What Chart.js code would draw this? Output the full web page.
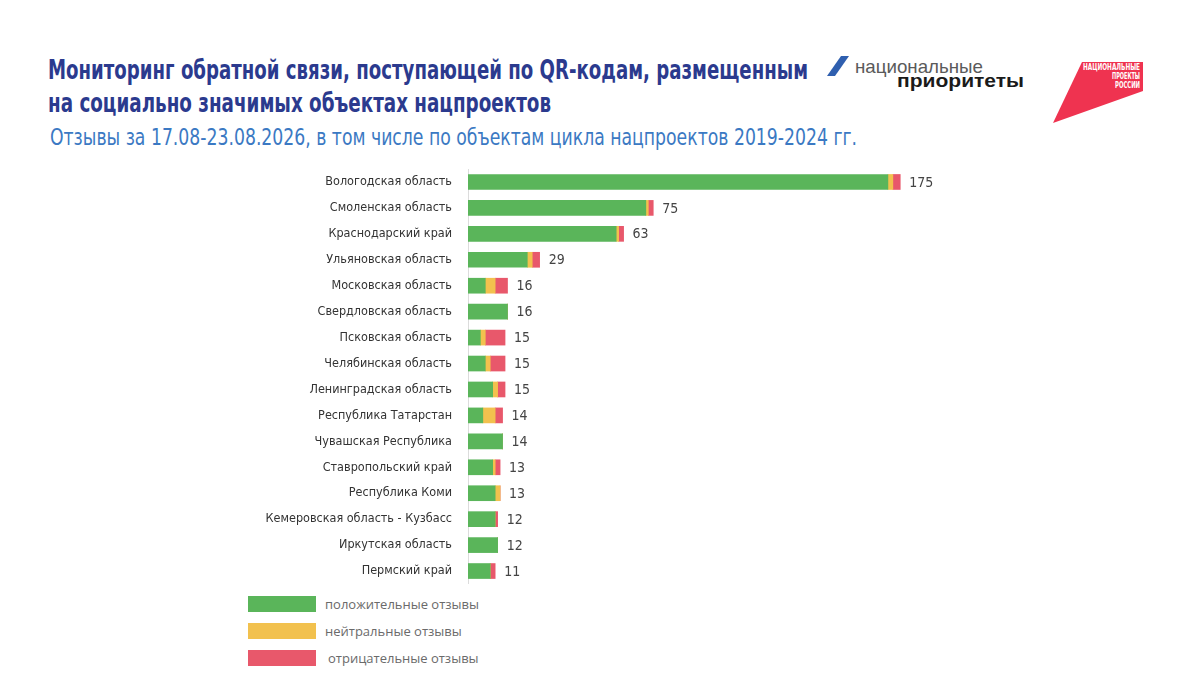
<!DOCTYPE html>
<html lang="ru">
<head>
<meta charset="utf-8">
<title>Мониторинг обратной связи</title>
<script src="https://cdn.jsdelivr.net/npm/chart.js@4"></script>
<style>
    html, body { margin: 0; padding: 0; background: #fff; }
    #page { position: relative; width: 1200px; height: 675px; overflow: hidden; }
    #header { position: absolute; left: 0; top: 0; }
    #chartBox { position: absolute; left: 0; top: 169px; width: 1000px; height: 415px; }
    #legend { position: absolute; left: 248px; top: 596px; font-family: "Open Sans", sans-serif; font-size: 13px; color: #6a6a6a; }
    .legend-item { position: relative; height: 27px; }
    .legend-box { position: absolute; left: 0; top: 0; width: 68px; height: 16px; }
    .legend-text { position: absolute; left: 77px; top: -1px; white-space: nowrap; }
</style>
</head>
<body>
<div id="page">
    <svg id="header" width="1200" height="170" xmlns="http://www.w3.org/2000/svg">
        <g font-family="'Liberation Sans Narrow', 'DejaVu Sans Condensed', sans-serif">
            <text x="48" y="79" font-size="27" font-weight="bold" fill="#2b3a8e" textLength="760" lengthAdjust="spacingAndGlyphs">Мониторинг обратной связи, поступающей по QR-кодам, размещенным</text>
            <text x="48" y="112" font-size="27" font-weight="bold" fill="#2b3a8e" textLength="503" lengthAdjust="spacingAndGlyphs">на социально значимых объектах нацпроектов</text>
            <text x="50" y="145" font-size="23" fill="#3b79c3" textLength="807" lengthAdjust="spacingAndGlyphs">Отзывы за 17.08-23.08.2026, в  том числе по объектам цикла нацпроектов 2019-2024 гг.</text>
        </g>
        <!-- логотип "национальные приоритеты" -->
        <polygon points="827,76 835,76 849,56 841,56" fill="#2f5faf"/>
        <text x="855" y="73" font-family="'Liberation Sans', Arial, sans-serif" font-size="19" fill="#5a5a5a" textLength="128" lengthAdjust="spacingAndGlyphs">национальные</text>
        <text x="897" y="87" font-family="'Liberation Sans', Arial, sans-serif" font-size="19" font-weight="bold" fill="#1a1a1a" textLength="127" lengthAdjust="spacingAndGlyphs">приоритеты</text>
        <!-- логотип "национальные проекты" -->
        <polygon points="1082,62 1143,62 1143,91 1053,123" fill="#ef3350"/>
        <g font-family="'DejaVu Sans Condensed', sans-serif" font-size="9" font-weight="bold" fill="#fff" text-anchor="end">
            <text x="1140" y="70" textLength="57" lengthAdjust="spacingAndGlyphs">НАЦИОНАЛЬНЫЕ</text>
            <text x="1140" y="79" textLength="28" lengthAdjust="spacingAndGlyphs">ПРОЕКТЫ</text>
            <text x="1140" y="88" textLength="25" lengthAdjust="spacingAndGlyphs">РОССИИ</text>
        </g>
    </svg>
    <div id="chartBox"><canvas id="feedbackChart"></canvas></div>
    <div id="legend"></div>
</div>
<script>
const regions = [
    'Вологодская область',
    'Смоленская область',
    'Краснодарский край',
    'Ульяновская область',
    'Московская область',
    'Свердловская область',
    'Псковская область',
    'Челябинская область',
    'Ленинградская область',
    'Республика Татарстан',
    'Чувашская Республика',
    'Ставропольский край',
    'Республика Коми',
    'Кемеровская область - Кузбасс',
    'Иркутская область',
    'Пермский край'
];
const positive = [170, 72, 60, 24, 7, 16, 5, 7, 10, 6, 14, 10, 11, 11, 12, 9];
const neutral  = [2, 1, 1, 2, 4, 0, 2, 2, 2, 5, 0, 1, 2, 0, 0, 0];
const negative = [3, 2, 2, 3, 5, 0, 8, 6, 3, 3, 0, 2, 0, 1, 0, 2];

const seriesLabels = ['положительные отзывы', 'нейтральные отзывы', 'отрицательные отзывы'];
const seriesColors = ['#5ab55a', '#f2c14e', '#e8586b'];

const labelFont = "'Liberation Sans Narrow', 'DejaVu Sans Condensed', sans-serif";

// Totals at the end of each bar
const totalsPlugin = {
    id: 'totals',
    afterDatasetsDraw(chart) {
        const ctx = chart.ctx;
        const xScale = chart.scales.x;
        const yScale = chart.scales.y;
        ctx.save();
        ctx.font = '14px ' + labelFont;
        ctx.fillStyle = '#444';
        ctx.textAlign = 'left';
        ctx.textBaseline = 'middle';
        regions.forEach((r, i) => {
            const total = positive[i] + neutral[i] + negative[i];
            ctx.fillText(total, xScale.getPixelForValue(total) + 9, yScale.getPixelForValue(i) + 1);
        });
        ctx.restore();
    }
};

const ctx = document.getElementById('feedbackChart').getContext('2d');
window.feedbackChart = new Chart(ctx, {
    type: 'bar',
    data: {
        labels: regions,
        datasets: [positive, neutral, negative].map((values, i) => ({
            label: seriesLabels[i],
            data: values,
            backgroundColor: seriesColors[i],
            borderWidth: 0,
            barThickness: 15
        }))
    },
    options: {
        indexAxis: 'y',
        responsive: true,
        maintainAspectRatio: false,
        animation: false,
        layout: { padding: { left: 0, right: 38, top: 0, bottom: 0 } },
        plugins: {
            legend: { display: false },
            tooltip: { enabled: false }
        },
        scales: {
            x: {
                stacked: true,
                display: false,
                min: 0,
                max: 200
            },
            y: {
                stacked: true,
                grid: { display: false, drawTicks: false },
                border: { display: true, color: '#dcdcdc', width: 1 },
                ticks: {
                    padding: 16,
                    color: '#333',
                    font: { family: labelFont, size: 12.5 }
                },
                afterFit(scale) {
                    scale.width = 468;
                    // no extra room above/below the category band
                    scale.paddingTop = 0;
                    scale.paddingBottom = 0;
                }
            }
        }
    },
    plugins: [totalsPlugin]
});

// Legend below the chart
document.getElementById('legend').innerHTML = seriesLabels.map((label, i) => `
    <div class="legend-item">
        <div class="legend-box" style="background:${seriesColors[i]}"></div>
        <div class="legend-text" style="${i === 2 ? 'left:80px' : ''}">${label}</div>
    </div>
`).join('');
</script>
</body>
</html>
